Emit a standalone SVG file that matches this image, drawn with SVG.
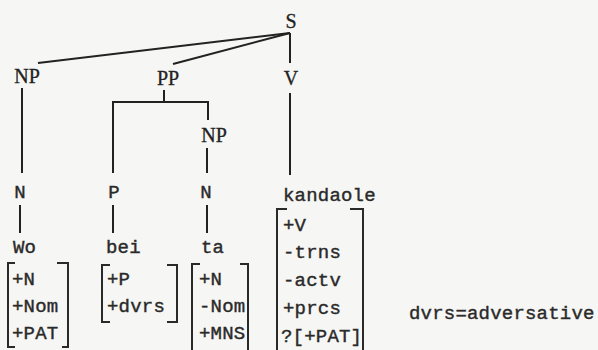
<svg xmlns="http://www.w3.org/2000/svg" width="598" height="350" viewBox="0 0 598 350">
<style>
.bg{fill:#f6f6f4}
.lbl{font-family:"Liberation Serif",serif;font-size:20px;fill:#222;stroke:#222;stroke-width:0.3;text-anchor:middle}
.tw{font-family:"Liberation Mono",monospace;font-size:19px;fill:#2a2a2a;stroke:#2a2a2a;stroke-width:0.4;letter-spacing:0.2px}
.twc{font-family:"Liberation Mono",monospace;font-size:19px;fill:#2a2a2a;stroke:#2a2a2a;stroke-width:0.4;text-anchor:middle}
.ln{stroke:#222;stroke-width:2;fill:none}
.br{stroke:#2a2a2a;stroke-width:2;fill:none}
</style>
<rect class="bg" x="0" y="0" width="598" height="350"/>
<g id="connectors">
<line class="ln" x1="290" y1="33" x2="38" y2="63"/>
<line class="ln" x1="290" y1="33" x2="173" y2="64"/>
<line class="ln" x1="290" y1="33" x2="290" y2="63"/>
<line class="ln" x1="290" y1="93" x2="290" y2="175"/>
<line class="ln" x1="22" y1="88" x2="22" y2="173"/>
<polyline class="ln" points="113,173 113,102 208,102 208,120"/>
<line class="ln" x1="164" y1="90" x2="164" y2="102"/>
<line class="ln" x1="207" y1="148" x2="207" y2="173"/>
<line class="ln" x1="20" y1="205" x2="20" y2="233"/>
<line class="ln" x1="113" y1="205" x2="113" y2="233"/>
<line class="ln" x1="207" y1="205" x2="207" y2="233"/>
</g>
<g id="S"><text class="lbl" x="291" y="28">S</text></g>
<g id="NP1"><text class="lbl" x="27" y="83">NP</text></g>
<g id="PP"><text class="lbl" x="168" y="85">PP</text></g>
<g id="V"><text class="lbl" x="291" y="85">V</text></g>
<g id="NP2"><text class="lbl" x="214" y="142">NP</text></g>
<g id="N1"><text class="twc" x="20" y="198">N</text></g>
<g id="P"><text class="twc" x="114" y="198">P</text></g>
<g id="N2"><text class="twc" x="206" y="198">N</text></g>
<g id="Wo">
<text class="tw" x="13" y="253">Wo</text>
<path class="br" d="M15,263 H8 V347 H15 M57,263 H68 V347 H62"/>
<text class="tw" x="12" y="285">+N</text>
<text class="tw" x="12" y="312">+Nom</text>
<text class="tw" x="12" y="339">+PAT</text>
</g>
<g id="bei">
<text class="tw" x="106" y="253">bei</text>
<path class="br" d="M110,265 H102 V322 H110 M167,265 H177 V322 H167"/>
<text class="tw" x="107" y="285">+P</text>
<text class="tw" x="107" y="312">+dvrs</text>
</g>
<g id="ta">
<text class="tw" x="201" y="253">ta</text>
<path class="br" d="M200,264 H192 V351 M240,264 H248 V351"/>
<text class="tw" x="199" y="285">+N</text>
<text class="tw" x="199" y="312">-Nom</text>
<text class="tw" x="199" y="339">+MNS</text>
</g>
<g id="kandaole">
<text class="tw" x="283" y="201">kandaole</text>
<path class="br" d="M287,209 H277 V351 M350,209 H363 V351"/>
<text class="tw" x="283" y="231">+V</text>
<text class="tw" x="283" y="258">-trns</text>
<text class="tw" x="283" y="286">-actv</text>
<text class="tw" x="283" y="314">+prcs</text>
<text class="tw" x="281" y="342">?[+PAT]</text>
</g>
<g id="note"><text class="tw" x="409" y="319">dvrs=adversative</text></g>
</svg>
